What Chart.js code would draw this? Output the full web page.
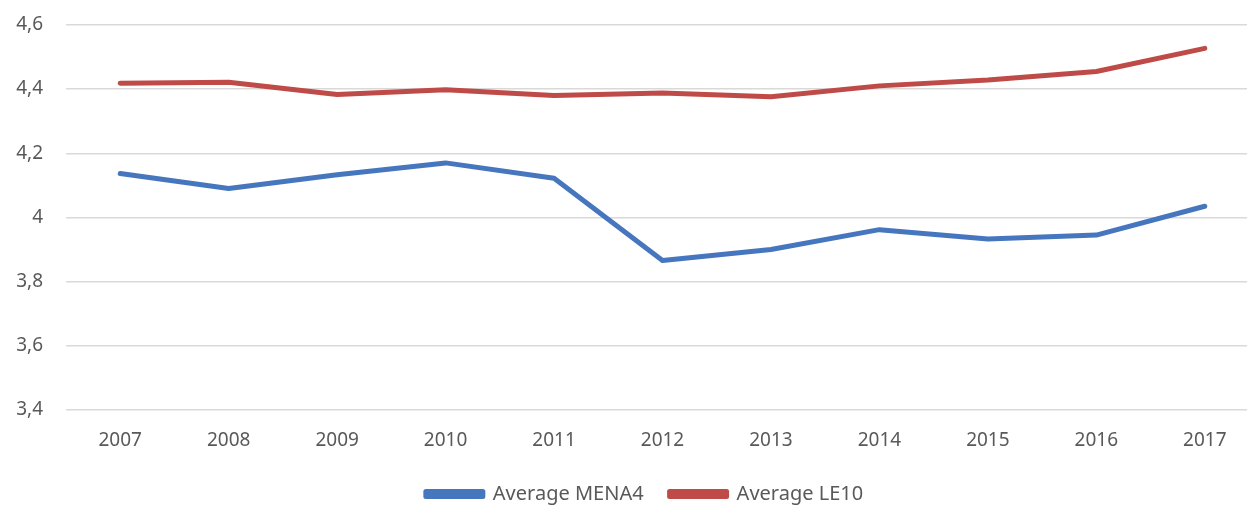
<!DOCTYPE html>
<html>
<head>
<meta charset="utf-8">
<script src="https://cdn.jsdelivr.net/npm/chart.js@4/dist/chart.umd.min.js"></script>
<style>
  html, body { margin: 0; padding: 0; background: #fff; overflow: hidden; }
  #wrap { width: 1264px; height: 507px; }
</style>
</head>
<body>
<div id="wrap"><canvas id="chartMena" width="1264" height="507"></canvas></div>
<script>
// années + séries
var years = ['2007', '2008', '2009', '2010', '2011', '2012', '2013', '2014', '2015', '2016', '2017'];
var mena4 = [4.137, 4.090, 4.133, 4.170, 4.122, 3.866, 3.900, 3.962, 3.933, 3.945, 4.035];
var le10  = [4.418, 4.421, 4.383, 4.398, 4.380, 4.388, 4.376, 4.410, 4.428, 4.455, 4.527];

var gris = '#595959';
var police = "'Noto Sans', sans-serif";

// légende : un peu plus à droite et plus bas (comme l'original)
var decalLegende = {
  id: 'decalLegende',
  afterLayout: function (chart) {
    var L = chart.legend;
    if (!L) return;
    L.left += 15;
    L.right += 15;
    L.top += 7;
    L.bottom += 7;
  }
};

var ctx = document.getElementById('chartMena');
var chartMena = new Chart(ctx.getContext('2d'), {
  type: 'line',
  data: {
    labels: years,
    datasets: [
      {
        label: 'Average MENA4',
        data: mena4,
        borderColor: '#4677BE',
        backgroundColor: '#4677BE',
        borderWidth: 5,
        pointRadius: 0,
        borderCapStyle: 'round',
        borderJoinStyle: 'round',
        tension: 0
      },
      {
        label: 'Average LE10',
        data: le10,
        borderColor: '#BF4B48',
        backgroundColor: '#BF4B48',
        borderWidth: 5,
        pointRadius: 0,
        borderCapStyle: 'round',
        borderJoinStyle: 'round',
        tension: 0
      }
    ]
  },
  options: {
    responsive: false,
    animation: false,
    layout: { padding: { top: 0, left: 0, right: 5, bottom: 0 } },
    plugins: {
      tooltip: { enabled: false },
      legend: {
        position: 'bottom',
        labels: {
          color: gris,
          font: { family: police, size: 20 },
          boxWidth: 57,
          boxHeight: 5,
          padding: 26
        }
      }
    },
    scales: {
      x: {
        offset: true,
        grid: { display: false, drawTicks: false },
        border: { display: false },
        ticks: { color: gris, font: { family: police, size: 19 }, padding: 19 },
        afterFit: function (scale) { scale.height = 41; }
      },
      y: {
        min: 3.4,
        max: 4.6,
        grid: { color: '#d9d9d9', lineWidth: 1.5, drawTicks: false },
        border: { display: false },
        afterFit: function (scale) { scale.width = 66; },
        ticks: {
          stepSize: 0.2,
          color: gris,
          font: { family: police, size: 19, lineHeight: 0.2 },
          padding: 23,
          callback: function (v) {
            var s = Math.abs(v - Math.round(v)) < 1e-9 ? String(Math.round(v)) : v.toFixed(1);
            return s.replace('.', ',');
          }
        }
      }
    }
  },
  plugins: [decalLegende]
});
</script>
</body>
</html>
